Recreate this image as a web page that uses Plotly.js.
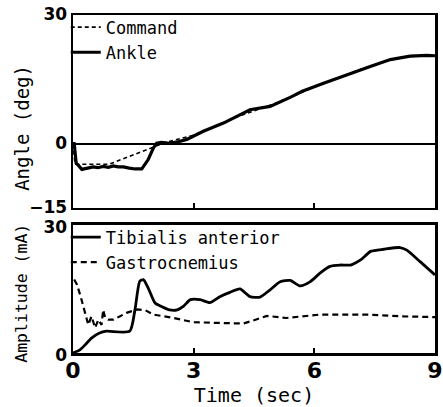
<!DOCTYPE html>
<html>
<head>
<meta charset="utf-8">
<script src="https://cdn.plot.ly/plotly-3.0.1.min.js"></script>
<style>html,body{margin:0;padding:0;background:#fff;}#chart{width:443px;height:407px;}</style>
</head>
<body>
<div id="chart"></div>
<script>
// ---- Data ----
const cmdTime  = [0, 0.05, 0.9, 2.0, 2.3, 3.0, 3.5, 4.0, 4.5, 5.0, 5.5, 6.0, 6.5, 7.0, 7.5, 8.0, 8.5, 9.0];
const cmdAngle = [0, -4.8, -4.8, -0.7, 0.3, 2.0, 3.9, 6.0, 7.7, 9.3, 11.2, 13.2, 15.0, 16.8, 18.4, 19.8, 20.4, 20.5];

const ankleTime  = [0, 0.03, 0.08, 0.13, 0.22, 0.35, 0.5, 0.62, 0.75, 0.88, 1.0, 1.12, 1.25, 1.4, 1.54, 1.71, 1.87, 2.0, 2.08, 2.2, 2.4, 2.6, 2.83, 3.24, 3.74, 4.4, 4.9, 5.4, 5.7, 6.23, 6.8, 7.39, 7.89, 8.38, 8.8, 9.0];
const ankleAngle = [0, 0, -4.6, -5.0, -6.0, -5.7, -5.4, -5.6, -5.3, -5.5, -5.2, -5.4, -5.4, -5.7, -5.9, -5.9, -3.7, -1.0, 0.1, 0.3, 0.1, 0.4, 1.0, 2.9, 4.8, 7.9, 8.7, 10.8, 12.2, 14.1, 16.1, 18.0, 19.6, 20.4, 20.6, 20.5];

const taTime = [0, 0.18, 0.3, 0.46, 0.66, 0.83, 1.41, 1.54, 1.66, 1.75, 1.87, 2.04, 2.2, 2.4, 2.59, 2.75, 2.92, 3.16, 3.4, 3.65, 3.9, 4.15, 4.4, 4.65, 4.9, 5.15, 5.4, 5.65, 5.9, 6.14, 6.39, 6.64, 6.9, 7.15, 7.4, 7.73, 8.13, 8.3, 8.63, 9.0];
const taAmp  = [0, 0.8, 1.9, 3.5, 4.7, 5.1, 5.1, 10.1, 16.8, 17.2, 15.2, 11.7, 10.9, 10.1, 10.1, 11.0, 12.5, 12.5, 11.8, 13.2, 14.2, 15.0, 13.2, 13.1, 14.8, 16.7, 17.0, 15.7, 16.7, 18.7, 20.3, 20.6, 20.6, 21.8, 23.8, 24.3, 24.7, 24.1, 21.4, 18.3];

const gaTime = [0.03, 0.1, 0.2, 0.3, 0.38, 0.46, 0.5, 0.55, 0.63, 0.71, 0.75, 0.8, 0.88, 1.0, 1.17, 1.33, 1.6, 1.8, 2.0, 2.5, 3.0, 3.57, 4.23, 4.48, 4.82, 5.3, 5.65, 6.14, 6.64, 7.3, 8.13, 9.0];
const gaAmp  = [17.2, 16.0, 12.9, 9.4, 6.6, 8.6, 7.4, 5.9, 7.8, 6.6, 10.1, 8.2, 7.8, 7.8, 8.6, 9.4, 10.2, 10.0, 9.0, 8.2, 7.2, 7.0, 6.9, 7.6, 8.7, 8.2, 8.6, 9.0, 9.0, 9.0, 8.6, 8.4];

const xTicks = [0, 3, 6, 9];
const angleTicks = [-15, 0, 30];
const ampTicks = [0, 30];

// ---- Plot ----
const mono = "DejaVu Sans Mono, monospace";
const numFont = {family: "DejaVu Sans, sans-serif", size: 17, color: "#000", weight: "bold"};

const traces = [
  {x: cmdTime, y: cmdAngle, name: "Command", mode: "lines", xaxis: "x", yaxis: "y",
   line: {color: "#000", width: 1.6, dash: "4px,3px"}, legend: "legend"},
  {x: ankleTime, y: ankleAngle, name: "Ankle", mode: "lines", xaxis: "x", yaxis: "y",
   line: {color: "#000", width: 3.2}, legend: "legend"},
  {x: taTime, y: taAmp, name: "Tibialis anterior", mode: "lines", xaxis: "x2", yaxis: "y2",
   line: {color: "#000", width: 2.8, shape: "spline", smoothing: 0.6}, legend: "legend2"},
  {x: gaTime, y: gaAmp, name: "Gastrocnemius", mode: "lines", xaxis: "x2", yaxis: "y2",
   line: {color: "#000", width: 2.2, dash: "6px,4px"}, legend: "legend2"}
];

const axisCommon = {
  showline: true, linecolor: "#000", linewidth: 2.5, mirror: true,
  showgrid: false, ticks: "inside", ticklen: 5, tickwidth: 2, tickcolor: "#000"
};

const legendCommon = {
  x: -0.02, xanchor: "left", yanchor: "top", bgcolor: "rgba(0,0,0,0)", borderwidth: 0,
  font: {family: mono, size: 17, color: "#000"}, itemwidth: 30, tracegroupgap: 0
};

const layout = {
  width: 443, height: 407,
  margin: {l: 73, r: 8, t: 15, b: 54},
  paper_bgcolor: "#fff", plot_bgcolor: "#fff",
  showlegend: true,
  xaxis: Object.assign({}, axisCommon, {
    domain: [0, 1], range: [0, 9], anchor: "y", tickvals: xTicks, showticklabels: false, zeroline: false
  }),
  yaxis: Object.assign({}, axisCommon, {
    domain: [0.429, 1], range: [-15, 30], anchor: "x", tickvals: angleTicks, ticks: "",
    tickfont: numFont, zeroline: true, zerolinecolor: "#000", zerolinewidth: 2, ticklabelshift: -1
  }),
  xaxis2: Object.assign({}, axisCommon, {
    domain: [0, 1], range: [0, 9], anchor: "y2", tickvals: xTicks, zeroline: false,
    tickfont: Object.assign({}, numFont, {size: 22}), ticklabelstandoff: -4,
    title: {text: "Time (sec)", font: {family: mono, size: 20, color: "#000"}, standoff: 0}
  }),
  yaxis2: Object.assign({}, axisCommon, {
    domain: [0, 0.379], range: [0, 30], anchor: "x2", tickvals: ampTicks, ticks: "",
    tickfont: numFont, zeroline: false, ticklabelshift: 2
  }),
  annotations: [
    {text: "Angle (deg)", xref: "paper", yref: "paper", x: -0.141, y: 0.666,
     xanchor: "center", yanchor: "middle", textangle: -90, showarrow: false,
     font: {family: mono, size: 19, color: "#000"}},
    {text: "Amplitude (mA)", xref: "paper", yref: "paper", x: -0.141, y: 0.178,
     xanchor: "center", yanchor: "middle", textangle: -90, showarrow: false,
     font: {family: mono, size: 16.5, color: "#000"}}
  ],
  legend: Object.assign({}, legendCommon, {y: 1.016}),
  legend2: Object.assign({}, legendCommon, {y: 0.395})
};

Plotly.newPlot("chart", traces, layout, {displayModeBar: false, staticPlot: true});
</script>
</body>
</html>
